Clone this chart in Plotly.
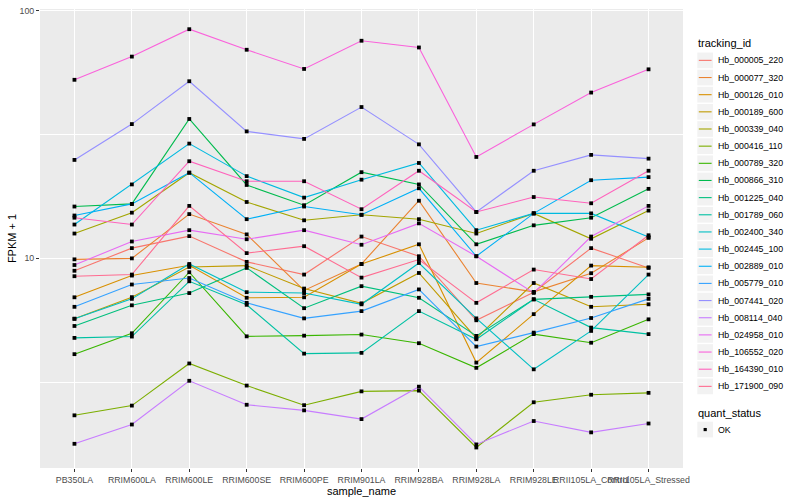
import plotly.graph_objects as go

samples = ["PB350LA", "RRIM600LA", "RRIM600LE", "RRIM600SE", "RRIM600PE", "RRIM901LA",
           "RRIM928BA", "RRIM928LA", "RRIM928LE", "RRII105LA_Control", "RRII105LA_Stressed"]

hb_000005_220 = [8.91, 11.0, 12.3, 9.68, 8.60, 12.25, 10.2, 5.62, 7.30, 11.0, 9.15]
hb_000077_320 = [9.91, 10.0, 15.1, 12.5, 7.42, 9.49, 17.1, 7.95, 7.32, 8.71, 12.1]
hb_000126_010 = [6.96, 8.52, 9.38, 6.93, 6.96, 9.49, 11.4, 3.79, 5.95, 9.35, 9.20]
hb_000189_600 = [5.70, 6.97, 9.23, 9.35, 7.55, 6.58, 8.73, 4.76, 7.95, 6.37, 6.52]
hb_000339_040 = [12.6, 15.3, 22.2, 16.9, 14.25, 15.0, 14.4, 12.6, 15.2, 12.0, 15.6]
hb_000416_110 = [2.32, 2.54, 3.76, 3.06, 2.55, 2.90, 2.92, 1.72, 2.62, 2.81, 2.86]
hb_000789_320 = [4.10, 4.98, 8.79, 4.84, 4.87, 4.92, 4.54, 3.61, 4.94, 4.56, 5.67]
hb_000866_310 = [16.2, 16.6, 36.6, 19.8, 16.4, 22.3, 19.9, 11.4, 13.6, 14.6, 19.1]
hb_001225_040 = [5.33, 6.46, 7.24, 9.15, 6.29, 7.72, 6.93, 4.86, 6.83, 6.99, 7.15]
hb_001789_060 = [4.77, 4.83, 8.08, 6.49, 4.12, 4.15, 6.12, 4.71, 6.83, 5.25, 4.94]
hb_002400_340 = [5.70, 6.86, 9.49, 7.30, 7.24, 6.52, 9.58, 5.72, 3.56, 5.09, 8.60]
hb_002445_100 = [13.7, 19.9, 29.1, 21.5, 17.6, 20.8, 24.3, 13.0, 15.2, 15.2, 12.2]
hb_002889_010 = [14.9, 16.6, 22.2, 14.4, 16.2, 15.0, 19.2, 10.2, 15.2, 20.7, 21.3]
hb_005779_010 = [6.37, 7.84, 8.33, 6.61, 5.72, 6.12, 7.49, 4.40, 5.01, 5.74, 6.86]
hb_007441_020 = [25.0, 34.9, 52.0, 32.6, 30.4, 40.9, 28.9, 15.4, 22.6, 26.2, 25.3]
hb_008114_040 = [1.78, 2.13, 3.20, 2.56, 2.43, 2.24, 3.03, 1.77, 2.20, 1.98, 2.15]
hb_024958_010 = [9.40, 11.7, 13.0, 11.95, 13.0, 11.35, 13.85, 10.2, 7.25, 12.25, 16.3]
hb_106552_020 = [52.7, 65.4, 84.4, 69.7, 58.3, 75.8, 71.2, 25.7, 34.8, 46.8, 58.1]
hb_164390_010 = [14.6, 13.7, 24.7, 20.5, 20.5, 15.8, 22.6, 15.4, 17.7, 16.7, 22.6]
hb_171900_090 = [8.47, 8.60, 16.3, 10.5, 11.2, 8.36, 9.89, 6.61, 9.01, 8.25, 12.4]

tracking_ids = ["Hb_000005_220", "Hb_000077_320", "Hb_000126_010", "Hb_000189_600",
                "Hb_000339_040", "Hb_000416_110", "Hb_000789_320", "Hb_000866_310",
                "Hb_001225_040", "Hb_001789_060", "Hb_002400_340", "Hb_002445_100",
                "Hb_002889_010", "Hb_005779_010", "Hb_007441_020", "Hb_008114_040",
                "Hb_024958_010", "Hb_106552_020", "Hb_164390_010", "Hb_171900_090"]
series = [hb_000005_220, hb_000077_320, hb_000126_010, hb_000189_600, hb_000339_040,
          hb_000416_110, hb_000789_320, hb_000866_310, hb_001225_040, hb_001789_060,
          hb_002400_340, hb_002445_100, hb_002889_010, hb_005779_010, hb_007441_020,
          hb_008114_040, hb_024958_010, hb_106552_020, hb_164390_010, hb_171900_090]
colors = ["#F8766D", "#EA8331", "#D89000", "#C09B00", "#A3A500", "#7CAE00", "#39B600",
          "#00BB4E", "#00BF7D", "#00C1A3", "#00BFC4", "#00BAE0", "#00B0F6", "#35A2FF",
          "#9590FF", "#C77CFF", "#E76BF3", "#FA62DB", "#FF62BC", "#FF6C91"]
y_ticks = [10, 100]
y_tick_labels = ["10", "100"]
quant_status = ["OK"]

FONT = "Liberation Sans, Arial, Helvetica, sans-serif"
W, H = 800, 500
L, R, T, B = 40, 117, 6, 32
pw, ph = W - L - R, H - T - B


def px(x):
    return (x - L) / pw


def py(y):
    return (H - B - y) / ph


fig = go.Figure()
for name, vals, col in zip(tracking_ids, series, colors):
    fig.add_trace(go.Scatter(x=samples, y=vals, mode="lines", name=name,
                             line=dict(color=col, width=1.1), showlegend=False))
for name, vals in zip(tracking_ids, series):
    fig.add_trace(go.Scatter(x=samples, y=vals, mode="markers", name=name,
                             marker=dict(color="black", size=3.8, symbol="square"),
                             showlegend=False))

fig.update_layout(
    width=W, height=H, margin=dict(l=L, r=R, t=T, b=B),
    paper_bgcolor="white", plot_bgcolor="#EBEBEB",
    font=dict(family=FONT, color="black"), showlegend=False,
)
fig.update_xaxes(
    type="category", range=[-0.6, len(samples) - 0.4],
    showgrid=True, gridcolor="white", gridwidth=1.1, zeroline=False, showline=False,
    ticks="outside", ticklen=3, tickwidth=1, tickcolor="#333333", tickangle=0,
    tickfont=dict(size=8.8, color="#4D4D4D", family=FONT),
    title=dict(text="sample_name", font=dict(size=11, color="black", family=FONT), standoff=0),
)
fig.update_yaxes(
    type="log", range=[0.1526, 2.008],
    tickmode="array", tickvals=y_ticks, ticktext=y_tick_labels,
    showgrid=True, gridcolor="white", gridwidth=1.1, zeroline=False, showline=False,
    ticks="outside", ticklen=3, tickwidth=1, tickcolor="#333333",
    tickfont=dict(size=8.8, color="#4D4D4D", family=FONT),
    minor=dict(tickmode="array", tickvals=[10 ** 0.5, 10 ** 1.5], showgrid=True,
               gridcolor="white", gridwidth=0.55, ticks=""),
    title=dict(text="FPKM + 1", font=dict(size=11, color="black", family=FONT), standoff=0),
)

# legend (ggplot style), built from the id list and colour list
fig.add_annotation(x=px(696), y=py(40.5), xref="paper", yref="paper", text="tracking_id",
                   showarrow=False, xanchor="left", yanchor="middle",
                   font=dict(size=11, color="black", family=FONT))
for i, (name, col) in enumerate(zip(tracking_ids, colors)):
    yc = 57.7 + i * 17.27
    fig.add_shape(type="rect", xref="paper", yref="paper", x0=px(697.3), x1=px(713.0),
                  y0=py(yc + 7.9), y1=py(yc - 7.9), fillcolor="#F2F2F2", line_width=0)
    fig.add_shape(type="line", xref="paper", yref="paper", x0=px(698.8), x1=px(711.6),
                  y0=py(yc), y1=py(yc), line=dict(color=col, width=1.1))
    fig.add_annotation(x=px(715.5), y=py(yc), xref="paper", yref="paper", text=name,
                       showarrow=False, xanchor="left", yanchor="middle",
                       font=dict(size=8.8, color="black", family=FONT))

fig.add_annotation(x=px(696), y=py(412.3), xref="paper", yref="paper", text="quant_status",
                   showarrow=False, xanchor="left", yanchor="middle",
                   font=dict(size=11, color="black", family=FONT))
for j, status in enumerate(quant_status):
    yc = 429.3 + j * 17.27
    fig.add_shape(type="rect", xref="paper", yref="paper", x0=px(697.3), x1=px(713.0),
                  y0=py(yc + 7.9), y1=py(yc - 7.9), fillcolor="#F2F2F2", line_width=0)
    fig.add_shape(type="rect", xref="paper", yref="paper", x0=px(703.6), x1=px(706.8),
                  y0=py(yc + 1.6), y1=py(yc - 1.6), fillcolor="black", line_width=0)
    fig.add_annotation(x=px(715.5), y=py(yc), xref="paper", yref="paper", text=status,
                       showarrow=False, xanchor="left", yanchor="middle",
                       font=dict(size=8.8, color="black", family=FONT))

fig.write_html("out.html", config={"displayModeBar": False},
               post_script="document.body.style.margin='0';")
